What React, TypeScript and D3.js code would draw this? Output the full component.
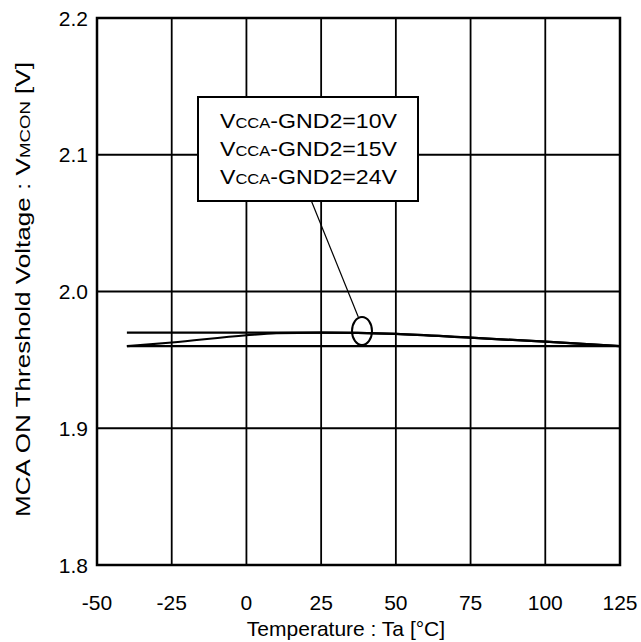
import React from "react";
import * as d3 from "d3";

const temps = [-40, -25, 0, 10, 25, 50, 75, 100, 125];
const series10V = [1.96, 1.96, 1.96, 1.96, 1.96, 1.96, 1.96, 1.96, 1.96];
const series15V = [1.96, 1.9627, 1.968, 1.9695, 1.97, 1.969, 1.9662, 1.9633, 1.96];
const series24V = [1.97, 1.97, 1.97, 1.97, 1.97, 1.969, 1.9662, 1.9633, 1.96];
const xTicks = [-50, -25, 0, 25, 50, 75, 100, 125];
const yTicks = [1.8, 1.9, 2.0, 2.1, 2.2];
const legendLabels = ["10V", "15V", "24V"];

const W = 641;
const H = 642;
const left = 97, right = 620, top = 18, bottom = 565;
const FONT = "'Liberation Sans', Arial, Helvetica, sans-serif";

export default function App() {
  const x = d3.scaleLinear().domain([-50, 125]).range([left, right]);
  const y = d3.scaleLinear().domain([1.8, 2.2]).range([bottom, top]);
  const line = d3
    .line<number>()
    .x((_, i) => x(temps[i]))
    .y((d) => y(d))
    .curve(d3.curveMonotoneX);
  const allSeries = [series10V, series15V, series24V];

  const lx = 198, ly = 97, lw = 220, lh = 104;

  return (
    <svg
      width={W}
      height={H}
      style={{ position: "absolute", left: 0, top: 0, background: "#fff" }}
      fontFamily={FONT}
    >
      <rect x={0} y={0} width={W} height={H} fill="#fff" />
      {xTicks.map((t) => (
        <line key={"gx" + t} x1={x(t)} x2={x(t)} y1={top} y2={bottom} stroke="#000" strokeWidth={1.8} />
      ))}
      {yTicks.map((t) => (
        <line key={"gy" + t} x1={left} x2={right} y1={y(t)} y2={y(t)} stroke="#000" strokeWidth={1.8} />
      ))}
      <rect x={left} y={top} width={right - left} height={bottom - top} fill="none" stroke="#000" strokeWidth={2.5} />
      {allSeries.map((s, i) => (
        <path key={"s" + i} d={line(s) || ""} fill="none" stroke="#000" strokeWidth={2.2} />
      ))}
      {/* legend */}
      <line x1={311.7} y1={201.7} x2={358.3} y2={317} stroke="#000" strokeWidth={1.2} />
      <ellipse cx={362} cy={331} rx={10} ry={14} fill="none" stroke="#000" strokeWidth={2} />
      <rect x={lx} y={ly} width={lw} height={lh} fill="#fff" stroke="#000" strokeWidth={2} />
      {legendLabels.map((l, i) => (
        <text
          key={"l" + i}
          x={220}
          y={128 + i * 27.8}
          fontSize={21}
          textLength={177}
          lengthAdjust="spacingAndGlyphs"
        >
          V<tspan fontSize={15}>CCA</tspan>-GND2={l}
        </text>
      ))}
      {xTicks.map((t) => (
        <text key={"tx" + t} x={x(t)} y={610} fontSize={21} textAnchor="middle">
          {t}
        </text>
      ))}
      {yTicks.map((t) => (
        <text key={"ty" + t} x={88} y={y(t) + 7.5} fontSize={21} textAnchor="end">
          {t.toFixed(1)}
        </text>
      ))}
      <text x={346} y={636} fontSize={21} textAnchor="middle">
        Temperature : Ta [°C]
      </text>
      <text
        transform={`translate(29.5, 289.5) rotate(-90)`}
        fontSize={21}
        textAnchor="middle"
        textLength={455}
        lengthAdjust="spacingAndGlyphs"
      >
        MCA ON Threshold Voltage : V<tspan fontSize={15}>MCON</tspan> [V]
      </text>
    </svg>
  );
}
